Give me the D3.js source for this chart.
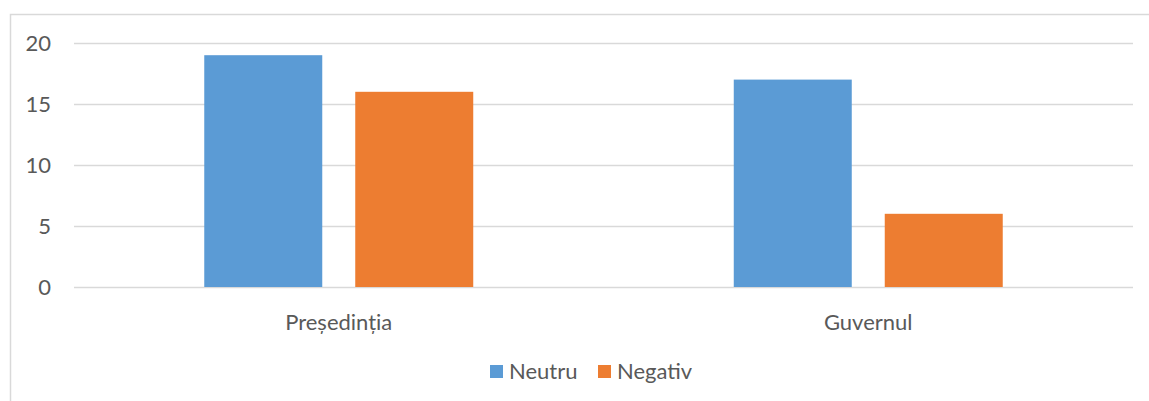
<!DOCTYPE html>
<html>
<head>
<meta charset="utf-8">
<script src="https://cdn.jsdelivr.net/npm/d3@7"></script>
<style>
  body { margin: 0; background: #fff; }
  text { font-family: Lato, Calibri, sans-serif; fill: #595959; }
</style>
</head>
<body>
<div id="chart"></div>
<script>
const width = 1149;
const height = 401;
const margin = { left: 74, right: 16, top: 43, bottom: 114 };

const categories = ['Președinția', 'Guvernul'];
const series = ['Neutru', 'Negativ'];
const neutru = [19, 17];
const negativ = [16, 6];
const y_ticks = [0, 5, 10, 15, 20];
const colors = ['#5b9bd5', '#ed7d31'];

const values = [neutru, negativ];
const rows = categories.map((c, i) => ({
  category: c,
  bars: series.map((s, j) => ({ series: s, value: values[j][i], color: colors[j] }))
}));

const svg = d3.select('#chart')
  .append('svg')
    .attr('width', width)
    .attr('height', height);

// chart border
svg.append('rect')
  .attr('x', 10.5)
  .attr('y', 14.5)
  .attr('width', width)
  .attr('height', height)
  .attr('fill', 'none')
  .attr('stroke', '#d9d9d9')
  .attr('stroke-width', 1.5);

const x0 = d3.scaleBand()
  .domain(categories)
  .range([margin.left, width - margin.right]);
const group_w = x0.bandwidth() * 0.508;
const x1 = d3.scaleBand()
  .domain(series)
  .range([(x0.bandwidth() - group_w) / 2, (x0.bandwidth() + group_w) / 2])
  .paddingInner(0.2185);
const y = d3.scaleLinear()
  .domain([0, 20])
  .range([height - margin.bottom, margin.top]);

// gridlines + y labels
const y_axis = svg.append('g')
  .attr('transform', 'translate(' + margin.left + ',0)')
  .call(d3.axisLeft(y).tickValues(y_ticks).tickSize(-(width - margin.left - margin.right)).tickPadding(23));
y_axis.select('.domain').remove();
y_axis.selectAll('.tick line').attr('stroke', '#d9d9d9').attr('stroke-width', 1.5);
y_axis.selectAll('.tick text').attr('font-size', 22).attr('fill', '#595959').style('font-family', 'Lato, sans-serif');

svg.append('g')
  .selectAll('g')
  .data(rows)
  .join('g')
    .attr('transform', d => 'translate(' + x0(d.category) + ',0)')
  .selectAll('rect')
  .data(d => d.bars)
  .join('rect')
    .attr('x', d => x1(d.series))
    .attr('width', x1.bandwidth())
    .attr('y', d => y(d.value))
    .attr('height', d => y(0) - y(d.value))
    .attr('fill', d => d.color);

// category labels
svg.append('g')
  .selectAll('text')
  .data(categories)
  .join('text')
    .attr('x', d => x0(d) + x0.bandwidth() / 2)
    .attr('y', 330)
    .attr('text-anchor', 'middle')
    .attr('font-size', 22)
    .text(d => d);

// legend
const legend = svg.append('g')
  .selectAll('g')
  .data(series)
  .join('g')
    .attr('transform', (d, i) => 'translate(' + [490, 598][i] + ',365)');
legend.append('rect')
  .attr('width', 13)
  .attr('height', 13)
  .attr('fill', (d, i) => colors[i]);
legend.append('text')
  .attr('x', 19)
  .attr('y', 14)
  .attr('font-size', 22)
  .text(d => d);
</script>
</body>
</html>
